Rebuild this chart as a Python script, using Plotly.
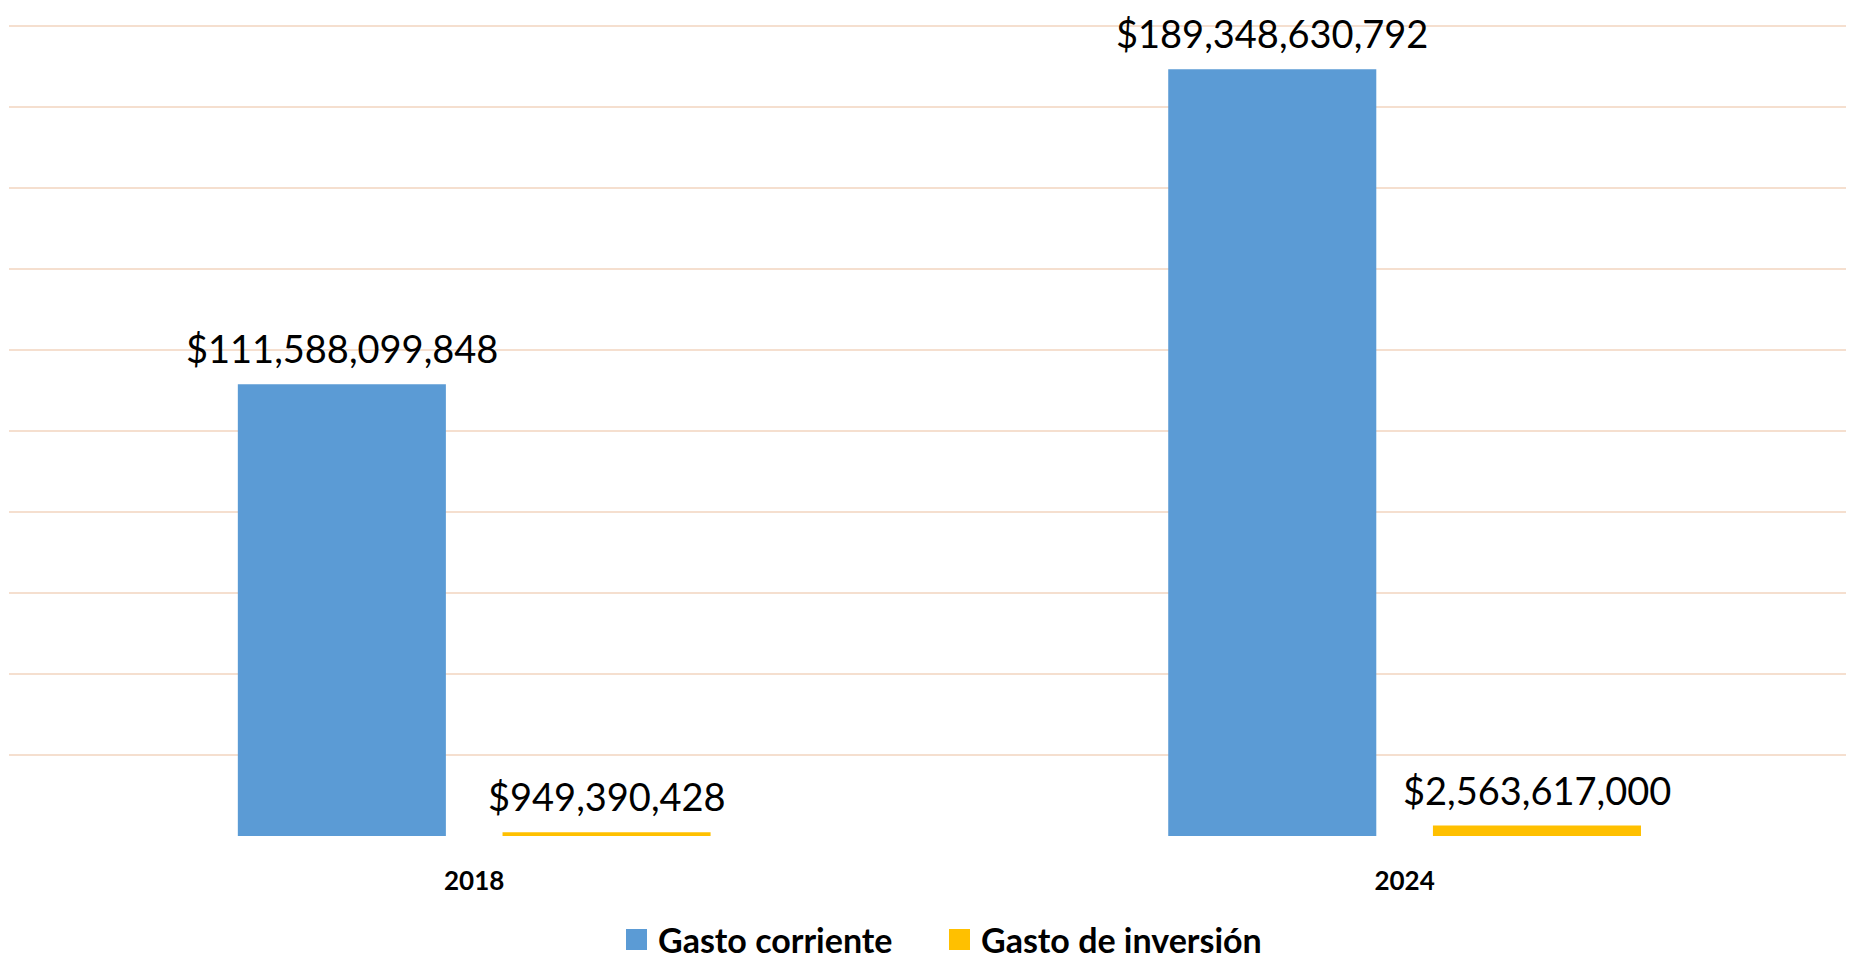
import plotly.graph_objects as go

# data
years = ["2018", "2024"]
gasto_corriente = [111588099848, 189348630792]
gasto_inversion = [949390428, 2563617000]
series_names = ["Gasto corriente", "Gasto de inversión"]
series_colors = ["#5B9BD5", "#FFC000"]
series_values = [gasto_corriente, gasto_inversion]

W, H = 1854, 958
FONT = "Lato, 'Open Sans', sans-serif"
# the page body has an 8px margin, so the figure sits 8px right/down in the shot
PAGE_OFF = 8
PLOT_W = 1845
X_RANGE = [-0.5, 1.483]
BARGAP = 0.431

fig = go.Figure()
for name, vals, color in zip(series_names, series_values, series_colors):
    fig.add_trace(go.Bar(
        x=years, y=vals, name=name,
        marker_color=color, marker_line_width=0,
        showlegend=False,
    ))

annotations, shapes = [], []

# value labels, a bit higher above the bars than plotly's outside text
# (numeric-looking category names would be read as indices, so use the index)
cat_px = PLOT_W / (X_RANGE[1] - X_RANGE[0])
slot_px = (1 - BARGAP) * cat_px / len(series_values)
for i, vals in enumerate(series_values):
    shift = (i - (len(series_values) - 1) / 2) * slot_px
    for j, v in enumerate(vals):
        annotations.append(dict(
            xref="x", yref="y", x=j, y=v, xshift=shift, yshift=11,
            xanchor="center", yanchor="bottom", showarrow=False,
            text="$%s" % format(v, ",.0f"),
            font=dict(family=FONT, size=38, color="black")))

# hand-drawn legend so the colour squares can be as big as in the original
legend_x = [626, 949]
for lx, name, color in zip(legend_x, series_names, series_colors):
    shapes.append(dict(type="rect", xref="paper", yref="paper",
                       x0=(lx - 9) / PLOT_W, x1=(lx + 12) / PLOT_W,
                       y0=-(950 - 836) / 811, y1=-(929 - 836) / 811,
                       fillcolor=color, line_width=0))
    annotations.append(dict(xref="paper", yref="paper",
                            x=(lx + 21) / PLOT_W, y=-(939 - 836) / 811,
                            xanchor="left", yanchor="middle", showarrow=False,
                            text="<b>%s</b>" % name,
                            font=dict(family=FONT, size=34, color="black")))

fig.update_layout(
    width=W, height=H,
    margin=dict(l=9 - PAGE_OFF, r=PAGE_OFF, t=25 - PAGE_OFF,
                b=H - 836 + PAGE_OFF, autoexpand=False),
    plot_bgcolor="white", paper_bgcolor="white",
    barmode="group", bargap=BARGAP, bargroupgap=0.214,
    showlegend=False,
    shapes=shapes, annotations=annotations,
)
fig.update_xaxes(
    type="category", range=X_RANGE, automargin=False,
    showgrid=False, showline=False, ticks="",
    tickfont=dict(family=FONT, size=26, color="black", weight="bold"),
    ticklabelstandoff=27,
)
fig.update_yaxes(
    range=[0, 200.3e9], dtick=20e9, showticklabels=False, automargin=False,
    showgrid=True, gridcolor="#F5DFCF", gridwidth=2,
    zeroline=False, showline=False,
)

fig.write_html("out.html")
